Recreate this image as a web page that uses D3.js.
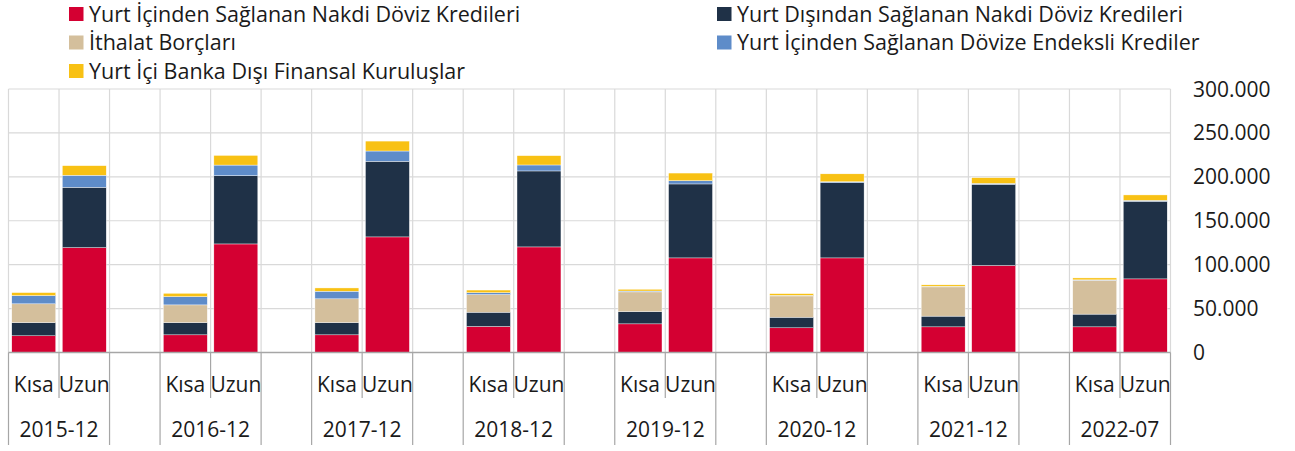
<!DOCTYPE html>
<html>
<head>
<meta charset="utf-8">
<script src="https://cdn.jsdelivr.net/npm/d3@7"></script>
<style>
  body { margin: 0; background: #fff; }
  text { font-family: "Open Sans", "Noto Sans", sans-serif; fill: #1a1a1a; }
</style>
</head>
<body>
<svg></svg>
<script>
// data (values in the same unit as the axis)
let vPeriods = ['2015-12', '2016-12', '2017-12', '2018-12', '2019-12', '2020-12', '2021-12', '2022-07'];
let vTerms = ['Kısa', 'Uzun'];
let vSeriesNames = [
  'Yurt İçinden Sağlanan Nakdi Döviz Kredileri',
  'Yurt Dışından Sağlanan Nakdi Döviz Kredileri',
  'İthalat Borçları',
  'Yurt İçinden Sağlanan Dövize Endeksli Krediler',
  'Yurt İçi Banka Dışı Finansal Kuruluşlar'
];
let vColors = ['#d40032', '#1f3147', '#d4bf9c', '#5e8cc9', '#f8c114'];

// Kısa
let vRedShort = [19000, 20100, 20100, 29600, 32600, 28100, 29200, 29200];
let vNavyShort = [15100, 14000, 14000, 16300, 14000, 12100, 12200, 14500];
let vTanShort = [21300, 20100, 27000, 20000, 22400, 24200, 33300, 38600];
let vBlueShort = [9400, 9400, 8700, 2200, 1000, 600, 600, 400];
let vYellowShort = [3400, 3800, 3700, 3000, 2000, 2000, 1700, 2200];
// Uzun
let vRedLong = [119400, 123600, 131600, 120200, 107700, 107700, 99000, 83800];
let vNavyLong = [68700, 77700, 86100, 86500, 84200, 85700, 92500, 88400];
let vTanLong = [0, 0, 0, 0, 0, 0, 0, 0];
let vBlueLong = [13700, 12100, 11700, 6800, 3700, 1000, 1000, 1000];
let vYellowLong = [10900, 11000, 11300, 10600, 8700, 9000, 6500, 6200];

let vTicks = [0, 50000, 100000, 150000, 200000, 250000, 300000];

let vWidth = 1295;
let vHeight = 451;
let vLeft = 8.5, vRight = 1170.5, vTop = 89, vBottom = 352.5;

let vShort = [vRedShort, vNavyShort, vTanShort, vBlueShort, vYellowShort];
let vLong = [vRedLong, vNavyLong, vTanLong, vBlueLong, vYellowLong];

// one slot per bar plus an empty slot between periods
let vSlots = [];
let vRows = [];
vPeriods.forEach((p, i) => {
  vTerms.forEach((t, j) => {
    let src = j === 0 ? vShort : vLong;
    let row = { slot: p + '|' + t, period: p, term: t };
    vSeriesNames.forEach((s, k) => { row[s] = src[k][i]; });
    vRows.push(row);
    vSlots.push(row.slot);
  });
  if (i < vPeriods.length - 1) vSlots.push(p + '|gap');
});

let svg = d3.select('svg')
  .attr('width', vWidth)
  .attr('height', vHeight);

let x = d3.scaleBand()
  .domain(vSlots)
  .range([vLeft, vRight])
  .padding(0);

let y = d3.scaleLinear()
  .domain([0, 300000])
  .range([vBottom, vTop]);

let vLocale = d3.formatLocale({ decimal: ',', thousands: '.', grouping: [3], currency: ['', ''] });
let vFormat = vLocale.format(',d');

// grid
let grid = svg.append('g');
grid.selectAll('line.h')
  .data(vTicks)
  .enter()
  .append('line')
  .attr('x1', vLeft)
  .attr('x2', vRight)
  .attr('y1', (d) => y(d))
  .attr('y2', (d) => y(d))
  .style('stroke', '#d9d9d9')
  .style('stroke-width', 1.2);

let vEdges = vSlots.map((s) => x(s)).concat([vRight]);
grid.selectAll('line.v')
  .data(vEdges)
  .enter()
  .append('line')
  .attr('x1', (d) => d)
  .attr('x2', (d) => d)
  .attr('y1', vTop)
  .attr('y2', vBottom)
  .style('stroke', '#d9d9d9')
  .style('stroke-width', 1.2);

// stacked bars
let vStack = d3.stack().keys(vSeriesNames);
let vLayers = vStack(vRows);
let vBarW = x.bandwidth() * 0.87;

svg.append('g')
  .selectAll('g')
  .data(vLayers)
  .enter()
  .append('g')
  .style('fill', (d, i) => vColors[i])
  .selectAll('rect')
  .data((d) => d)
  .enter()
  .append('rect')
  .attr('x', (d) => x(d.data.slot) + (x.bandwidth() - vBarW) / 2)
  .attr('width', vBarW)
  .attr('y', (d) => y(d[1]))
  .attr('height', (d) => y(d[0]) - y(d[1]))
  .style('stroke', '#fff')
  .style('stroke-width', 0.4);

// category axis
let axis = svg.append('g');
axis.append('line')
  .attr('x1', vLeft)
  .attr('x2', vRight)
  .attr('y1', vBottom)
  .attr('y2', vBottom)
  .style('stroke', '#a6a6a6')
  .style('stroke-width', 1.5);

axis.selectAll('line.tick')
  .data(vEdges)
  .enter()
  .append('line')
  .attr('x1', (d) => d)
  .attr('x2', (d) => d)
  .attr('y1', vBottom)
  .attr('y2', (d, i) => {
    // divider between Kısa and Uzun only spans the first label row
    let s = vSlots[i];
    return s && s.endsWith('|Uzun') ? 398 : 445;
  })
  .style('stroke', '#a6a6a6')
  .style('stroke-width', 1.2);

axis.selectAll('text.term')
  .data(vRows)
  .enter()
  .append('text')
  .attr('x', (d) => x(d.slot) + x.bandwidth() / 2)
  .attr('y', 391.5)
  .attr('text-anchor', 'middle')
  .style('font-size', '21px')
  .text((d) => d.term);

axis.selectAll('text.period')
  .data(vPeriods)
  .enter()
  .append('text')
  .attr('x', (d) => x(d + '|Uzun'))
  .attr('y', 437)
  .attr('text-anchor', 'middle')
  .style('font-size', '21px')
  .text((d) => d);

// value axis on the right
svg.append('g')
  .selectAll('text')
  .data(vTicks)
  .enter()
  .append('text')
  .attr('x', 1193)
  .attr('y', (d) => y(d) + 7.5)
  .style('font-size', '21px')
  .text((d) => vFormat(d));

// legend, two columns
let vLegendPos = [[69, 14], [717, 14], [69, 42.5], [717, 42.5], [69, 71]];
let legend = svg.append('g')
  .selectAll('g')
  .data(vSeriesNames)
  .enter()
  .append('g')
  .attr('transform', (d, i) => `translate(${vLegendPos[i][0]}, ${vLegendPos[i][1]})`);

legend.append('rect')
  .attr('x', 0)
  .attr('y', -7)
  .attr('width', 14.5)
  .attr('height', 14)
  .style('fill', (d, i) => vColors[i]);

legend.append('text')
  .attr('x', 20)
  .attr('y', 7.5)
  .style('font-size', '21.5px')
  .text((d) => d);
</script>
</body>
</html>
